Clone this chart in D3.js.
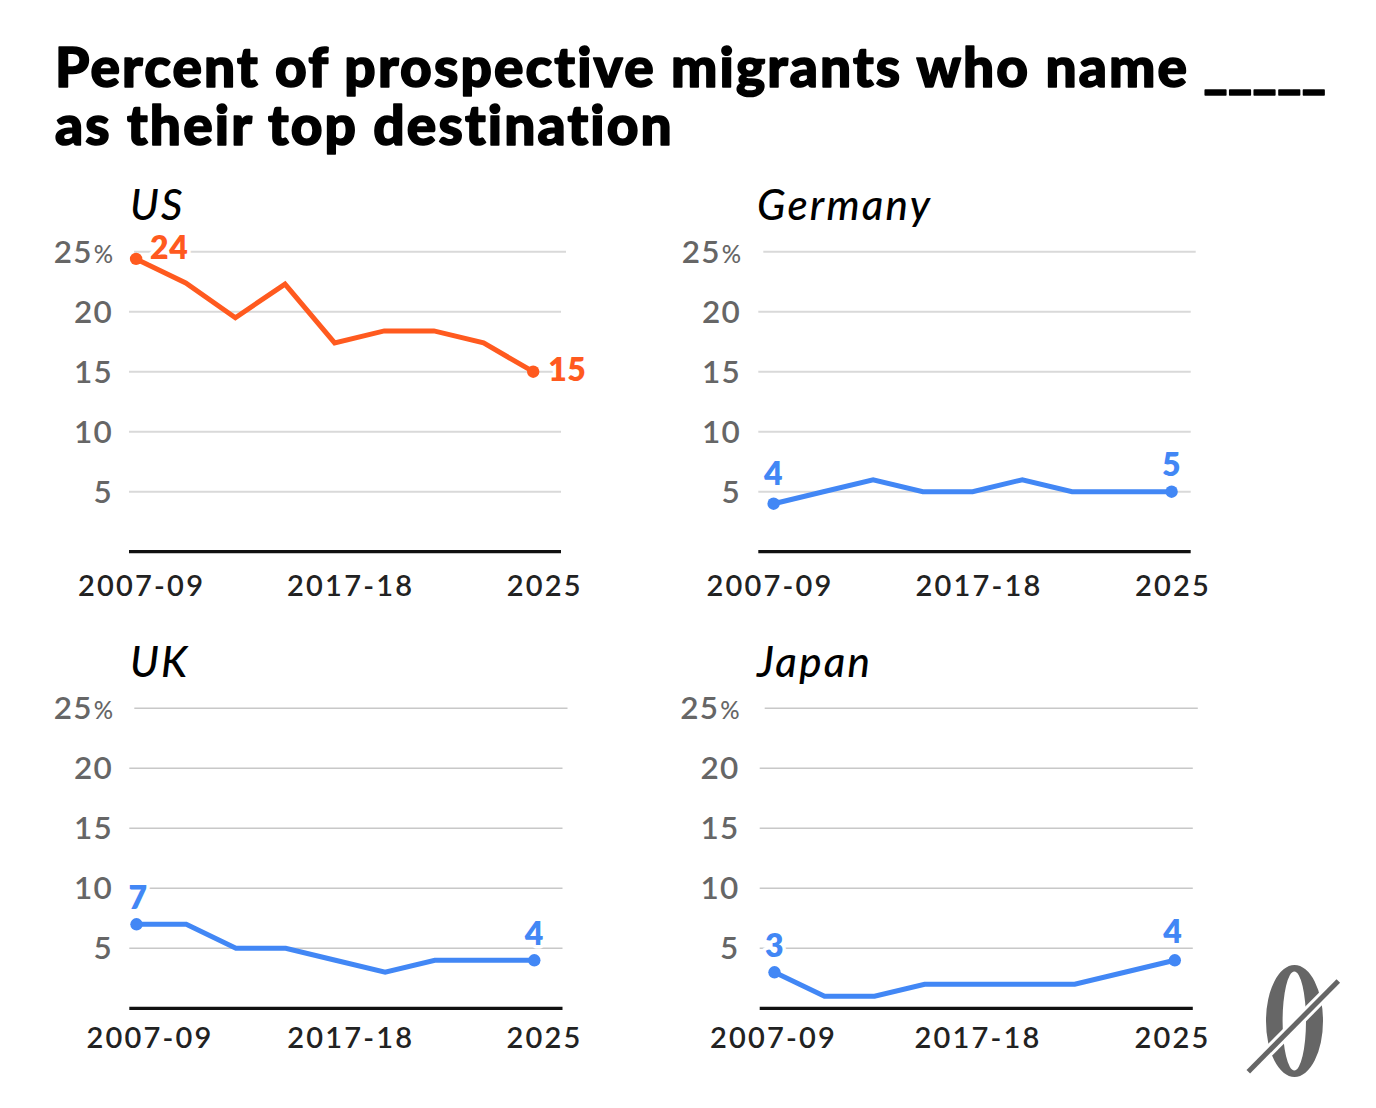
<!DOCTYPE html>
<html><head><meta charset="utf-8">
<script src="https://cdn.jsdelivr.net/npm/d3@7"></script>
<style>body{margin:0;background:#fff} svg{display:block}</style>
</head><body>
<svg id="chart" width="1376" height="1108"></svg>
<script>
// ---------- data ----------
const periods = [0, 1, 2, 3, 4, 5, 6, 7, 8];
const countries = ["US", "Germany", "UK", "Japan"];
const usValues      = [24.4, 22.4, 19.5, 22.3, 17.4, 18.4, 18.4, 17.4, 15.0];
const germanyValues = [4, 5, 6, 5, 5, 6, 5, 5, 5];
const ukValues      = [7, 7, 5, 5, 4, 3, 4, 4, 4];
const japanValues   = [3, 1, 1, 2, 2, 2, 2, 3, 4];
const yTicks = [5, 10, 15, 20, 25];
const xTickLabels = ["2007-09", "2017-18", "2025"];
const xTickPeriods = [0, 4, 8];
const titleLine1 = "Percent of prospective migrants who name";
const titleBlank = "_____";
const titleLine2 = "as their top destination";

const seriesValues = [usValues, germanyValues, ukValues, japanValues];

// ---------- layout / style ----------
const ORANGE = "#ff5a1f", BLUE = "#4287f5";
const layout = [
  {x0:136.1, x1:533.2, g0:129, g1:561, yTop:251.7, yBase:551.7, tickX:113, nameX:130, nameY:220, xlabY:595.5,
   xlabDx:[5.5,16,11.5], color:ORANGE,
   lab:[{dx:14,dy:0,anchor:"start"},{dx:15,dy:9,anchor:"start"}]},
  {x0:773.6, x1:1171.6, g0:758.3, g1:1190.7, yTop:251.7, yBase:551.7, tickX:741, nameX:757, nameY:220, xlabY:595.5,
   xlabDx:[-3.6,6.4,1.4], color:BLUE,
   lab:[{dx:0,dy:-19,anchor:"middle"},{dx:0,dy:-16,anchor:"middle"}]},
  {x0:136.5, x1:534.3, g0:129.3, g1:562.5, yTop:708.3, yBase:1008.3, tickX:113, nameX:130, nameY:677, xlabY:1048,
   xlabDx:[13.5,15.3,10.2], color:BLUE,
   lab:[{dx:1.5,dy:-15,anchor:"middle"},{dx:0,dy:-15,anchor:"middle"}]},
  {x0:774.5, x1:1174.8, g0:759.7, g1:1192.8, yTop:708.3, yBase:1008.3, tickX:739.5, nameX:757, nameY:677, xlabY:1048,
   xlabDx:[-1,3.3,-2.3], color:BLUE,
   lab:[{dx:0,dy:-15,anchor:"middle"},{dx:-2,dy:-17,anchor:"middle"}]}
];

const svg = d3.select("#chart");
svg.append("rect").attr("width",1376).attr("height",1108).attr("fill","#fff");

// ---------- title (one text element, two lines) ----------
const title = svg.append("text")
  .attr("font-family", "Lato, 'Noto Sans', sans-serif")
  .attr("font-weight", 900).attr("font-size", 55).attr("fill", "#000")
  .attr("stroke", "#000").attr("stroke-width", 1.6).attr("stroke-linejoin", "round");
const t1 = title.append("tspan").attr("x", 55).attr("y", 87).text(titleLine1);
const tb = title.append("tspan").attr("dx", 14).attr("letter-spacing", 0).text(titleBlank);
const t2 = title.append("tspan").attr("x", 55).attr("y", 145).text(titleLine2);
(function(){
  const w = t1.node().getComputedTextLength();
  const ls = (1133 - w) / (titleLine1.length - 1);
  t1.attr("letter-spacing", ls);
  t2.attr("letter-spacing", ls);
  // stretch blank to reach x = 1326
  const wb = tb.node().getComputedTextLength();
  tb.attr("textLength", 123).attr("lengthAdjust", "spacingAndGlyphs");
})();

// ---------- panels ----------
countries.forEach((name, i) => {
  const L = layout[i];
  const vals = seriesValues[i];
  const g = svg.append("g");
  const x = d3.scaleLinear().domain([periods[0], periods[periods.length-1]]).range([L.x0, L.x1]);
  const y = d3.scaleLinear().domain([0, 25]).range([L.yBase, L.yTop]);

  // panel name
  g.append("text").attr("x", L.nameX).attr("y", L.nameY)
    .attr("font-family", "Lato, sans-serif").attr("font-style", "italic").attr("font-weight", 500)
    .attr("font-size", 42).attr("letter-spacing", 2.2).attr("fill", "#000").text(name);

  // gridlines
  g.selectAll("line.grid").data(yTicks).join("line").attr("class","grid")
    .attr("x1", d => L.g0 + (d === 25 ? 5 : 0)).attr("x2", d => L.g1 + (d === 25 ? 5 : 0))
    .attr("y1", d => y(d)).attr("y2", d => y(d))
    .attr("stroke", i < 2 ? "#d9d9d9" : "#c8c8c8").attr("stroke-width", i < 2 ? 2 : 1.6);

  // y tick labels
  const yl = g.selectAll("text.yt").data(yTicks).join("text").attr("class","yt")
    .attr("x", L.tickX).attr("y", d => y(d) + 11).attr("text-anchor","end")
    .attr("font-family", "Lato, sans-serif").attr("font-weight", 600).attr("font-size", 31.5)
    .attr("letter-spacing", 1.2).attr("fill", "#666");
  yl.append("tspan").text(d => d);
  yl.filter(d => d === 25).append("tspan").attr("font-size", 24).attr("font-weight", 500)
    .attr("dx", 1).attr("letter-spacing", 0).text("%");

  // baseline axis
  g.append("line").attr("x1", L.g0).attr("x2", L.g1).attr("y1", y(0)).attr("y2", y(0))
    .attr("stroke", "#111").attr("stroke-width", 3.2);

  // x tick labels
  g.selectAll("text.xt").data(xTickLabels).join("text").attr("class","xt")
    .attr("x", (d,k) => x(xTickPeriods[k]) + L.xlabDx[k]).attr("y", L.xlabY)
    .attr("text-anchor","middle")
    .attr("font-family", "Lato, sans-serif").attr("font-weight", 600).attr("font-size", 29)
    .attr("letter-spacing", 2.2).attr("fill", "#222").text(d => d);

  // line
  const line = d3.line().x((d,k) => x(periods[k])).y(d => y(d));
  g.append("path").datum(vals).attr("d", line).attr("fill","none")
    .attr("stroke", L.color).attr("stroke-width", 5).attr("stroke-linejoin","miter");

  // end dots
  const ends = [0, vals.length - 1];
  g.selectAll("circle").data(ends).join("circle")
    .attr("cx", k => x(periods[k])).attr("cy", k => y(vals[k])).attr("r", 6.2).attr("fill", L.color);

  // end labels
  g.selectAll("text.vl").data(ends).join("text").attr("class","vl")
    .attr("x", (k,j) => x(periods[k]) + L.lab[j].dx).attr("y", (k,j) => y(vals[k]) + L.lab[j].dy)
    .attr("text-anchor", (k,j) => L.lab[j].anchor)
    .attr("font-family", "Lato, sans-serif").attr("font-weight", 800).attr("font-size", 32)
    .attr("letter-spacing", 0.5)
    .attr("fill", L.color).attr("stroke", "#fff").attr("stroke-width", 7)
    .attr("paint-order", "stroke").attr("stroke-linejoin","round")
    .text(k => Math.round(vals[k]));
});

// ---------- logo ----------
function ellipse(cx, cy, rx, ry) {
  return `M${cx-rx},${cy}a${rx},${ry} 0 1,0 ${2*rx},0a${rx},${ry} 0 1,0 ${-2*rx},0Z`;
}
const logo = svg.append("g");
logo.append("path").attr("d", ellipse(1294.5, 1021, 28.5, 56) + ellipse(1294.3, 1021, 11.7, 49.5))
  .attr("fill", "#666").attr("fill-rule", "evenodd");
logo.append("line").attr("x1", 1248.3).attr("y1", 1071.7).attr("x2", 1338.3).attr("y2", 981)
  .attr("stroke", "#fff").attr("stroke-width", 11);
logo.append("line").attr("x1", 1248.3).attr("y1", 1071.7).attr("x2", 1338.3).attr("y2", 981)
  .attr("stroke", "#666").attr("stroke-width", 5);
</script>
</body></html>
